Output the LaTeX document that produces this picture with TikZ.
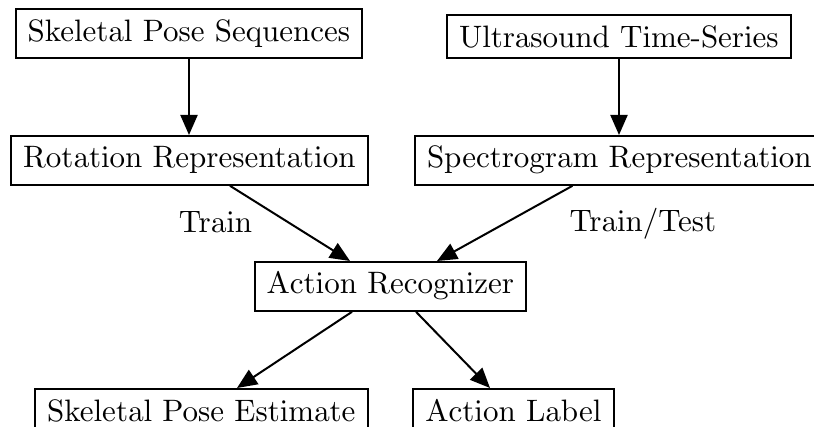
\documentclass[tikz,border=0pt]{standalone}
\usetikzlibrary{arrows.meta}
% 10pt design size scaled up, for the heavier strokes
\font\diagfont=cmr10 at 15.5pt
\begin{document}
\begin{tikzpicture}[x=0.5pt,y=-0.5pt,
  font=\diagfont,
  box/.style={draw,line width=1pt,inner xsep=6pt,inner ysep=5.4pt},
  arr/.style={line width=1pt,-{Triangle[length=10pt,width=8.5pt]}},
  lbl/.style={inner sep=0pt,anchor=base}]
\useasboundingbox (0,0) rectangle (814,427);
\clip (0,0) rectangle (814,427);
% input streams
\node[box,anchor=north] (seq) at (189,8) {Skeletal Pose Sequences};
\node[box,anchor=north] (us) at (619,14) {Ultrasound Time-Series};
% representations
\node[box,anchor=north] (rot) at (189.5,135) {Rotation Representation};
\node[box,anchor=north west] (spec) at (414,135) {Spectrogram Representation};
% model
\node[box,anchor=north] (ar) at (390.5,261) {Action Recognizer};
% outputs
\node[box,anchor=north] (spe) at (201.5,388) {Skeletal Pose Estimate};
\node[box,anchor=north] (al) at (513.5,388) {Action Label};
% edge labels
\node[lbl] (train) at (215.5,233) {Train};
\node[lbl] (traintest) at (643,232) {Train/Test};
% connectors
\draw[arr] (seq.south) -- (seq.south |- rot.north);
\draw[arr] (us.south) -- (us.south |- spec.north);
\draw[arr] ([xshift=20.25pt]rot.south) -- ([xshift=-20.25pt]ar.north);
\draw[arr] ([xshift=-23.5pt]spec.south) -- ([xshift=23.25pt]ar.north);
\draw[arr] ([xshift=-19.25pt]ar.south) -- ([xshift=17.75pt]spe.north);
\draw[arr] ([xshift=12.75pt]ar.south) -- ([xshift=-11.75pt]al.north);
\end{tikzpicture}
\end{document}
